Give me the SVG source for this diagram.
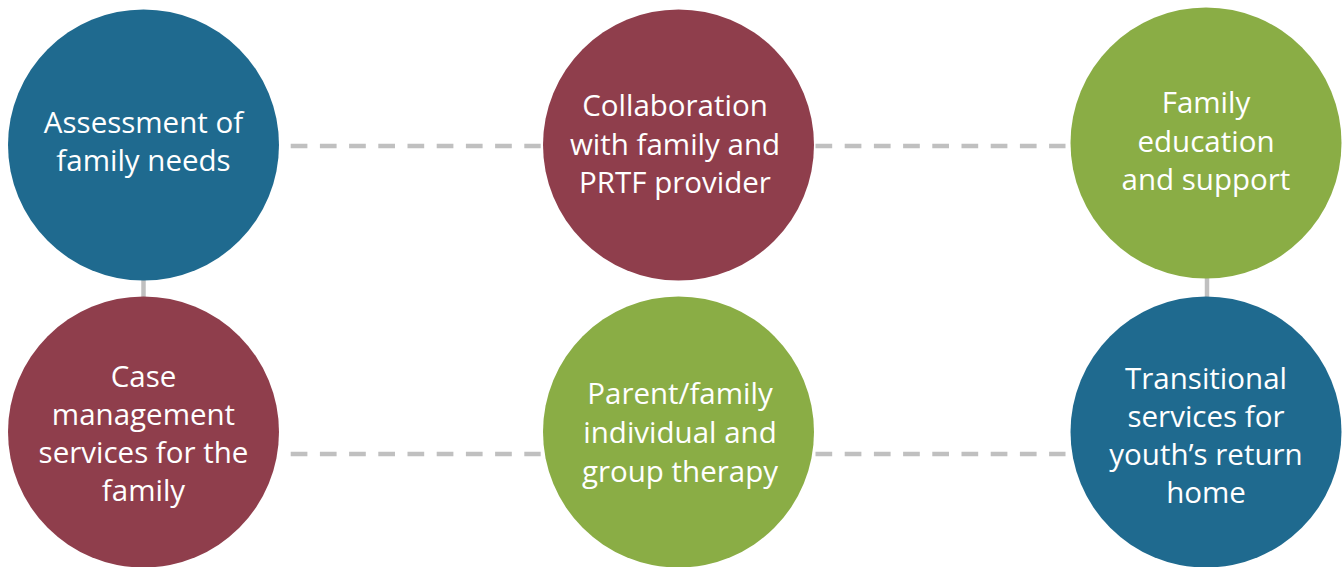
<svg xmlns="http://www.w3.org/2000/svg" width="1344" height="567" viewBox="0 0 1344 567">
<style>
.blue{fill:#1F6A8F}
.red{fill:#8F3E4C}
.green{fill:#8AAD45}
.lbl{font-family:"Open Sans","Noto Sans","Liberation Sans",sans-serif;font-size:29.5px;fill:#FFFFFF;text-anchor:middle}
.dash{stroke:#C0C0C0;stroke-width:4.5;fill:none;stroke-dasharray:16.7 12.5}
.solid{stroke:#C0C0C0;stroke-width:4.5;fill:none}
</style>
<rect width="1344" height="567" fill="#FFFFFF"/>
<g id="connectors">
<line class="dash" x1="290.7" y1="146" x2="540.7" y2="146"/>
<line class="dash" x1="815.5" y1="146" x2="1065.5" y2="146"/>
<line class="dash" x1="290.7" y1="454" x2="540.7" y2="454"/>
<line class="dash" x1="815.5" y1="454" x2="1065.5" y2="454"/>
<line class="solid" x1="143.5" y1="278" x2="143.5" y2="298"/>
<line class="solid" x1="1207" y1="278" x2="1207" y2="298"/>
</g>
<g id="n1">
<circle class="blue" cx="143.5" cy="145" r="135.5"/>
<text class="lbl" x="143.5"><tspan x="143.5" y="133">Assessment of</tspan><tspan x="143.5" y="171">family needs</tspan></text>
</g>
<g id="n2">
<circle class="red" cx="678.5" cy="145" r="135.5"/>
<text class="lbl"><tspan x="675" y="116">Collaboration</tspan><tspan x="675" y="155">with family and</tspan><tspan x="675" y="193">PRTF provider</tspan></text>
</g>
<g id="n3">
<circle class="green" cx="1206" cy="143" r="135.5"/>
<text class="lbl"><tspan x="1206" y="113">Family</tspan><tspan x="1206" y="152">education</tspan><tspan x="1206" y="190">and support</tspan></text>
</g>
<g id="n4">
<circle class="red" cx="143.5" cy="432" r="135.5"/>
<text class="lbl"><tspan x="143.5" y="387">Case</tspan><tspan x="143.5" y="425">management</tspan><tspan x="143.5" y="463">services for the</tspan><tspan x="143.5" y="501">family</tspan></text>
</g>
<g id="n5">
<circle class="green" cx="678.5" cy="432" r="135.5"/>
<text class="lbl"><tspan x="680" y="404">Parent/family</tspan><tspan x="680" y="443">individual and</tspan><tspan x="680" y="482">group therapy</tspan></text>
</g>
<g id="n6">
<circle class="blue" cx="1206" cy="432" r="135.5"/>
<text class="lbl"><tspan x="1206" y="389">Transitional</tspan><tspan x="1206" y="427">services for</tspan><tspan x="1206" y="465">youth’s return</tspan><tspan x="1206" y="503">home</tspan></text>
</g>
</svg>
